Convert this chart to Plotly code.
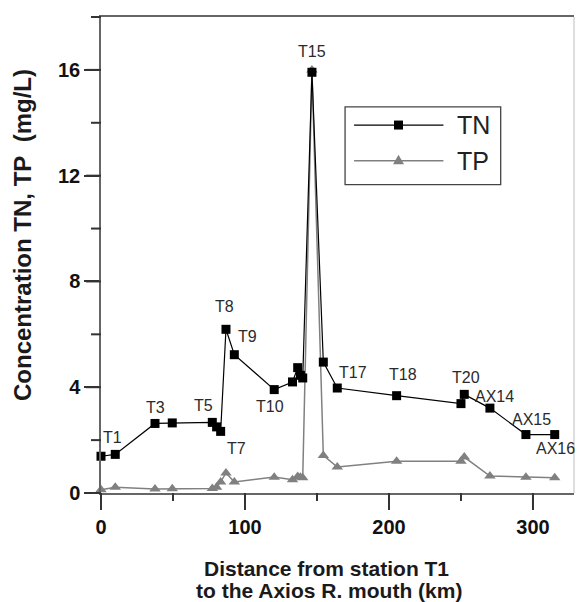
import plotly.graph_objects as go

# ---- data ----
distance_km = [0, 9.9, 37.5, 49.5, 77.3, 80.3, 83.1, 86.8, 92.6, 120.3,
               133.0, 136.6, 138.5, 140.1, 146.5, 154.4, 164.1, 205.3,
               250.0, 252.3, 270.1, 295.1, 315.1]
stations = ["T1", "T2", "T3", "T4", "T5", "T6", "T7", "T8", "T9", "T10",
            "T11", "T12", "T13", "T14", "T15", "T16", "T17", "T18",
            "T19", "T20", "AX14", "AX15", "AX16"]
tn = [1.39, 1.46, 2.63, 2.65, 2.67, 2.50, 2.33, 6.19, 5.23, 3.91,
      4.20, 4.74, 4.45, 4.35, 15.91, 4.95, 3.97, 3.68,
      3.38, 3.73, 3.21, 2.21, 2.21]
tp = [0.12, 0.22, 0.15, 0.16, 0.17, 0.22, 0.42, 0.76, 0.42, 0.60,
      0.50, 0.62, 0.60, 0.58, 16.0, 1.42, 0.98, 1.20,
      1.20, 1.36, 0.64, 0.60, 0.58]

# station labels drawn on the chart: name -> (x shift px, y shift px)
label_offsets = {
    "T1": (11, 19), "T3": (0, 16), "T5": (-9, 17), "T7": (16, -17),
    "T8": (-1, 23), "T9": (13, 18), "T10": (-4, -17), "T15": (0, 21),
    "T17": (16, 16), "T18": (6, 21), "T20": (2, 17), "AX14": (5, 12),
    "AX15": (6, 15), "AX16": (1, -14),
}

X_RANGE = [0, 328.5]
Y_RANGE = [0, 18]
x_major_ticks = [0, 100, 200, 300]
x_minor_ticks = [50, 150, 250]
y_major_ticks = [0, 4, 8, 12, 16]
y_minor_ticks = [2, 6, 10, 14, 18]

FONT = "Arial, 'Liberation Sans', Helvetica, sans-serif"
TN_COLOR = "#000000"
TP_COLOR = "#808080"
TICK_COLOR = "#333333"
TICK_W = 2

fig = go.Figure()
fig.add_trace(go.Scatter(
    x=distance_km, y=tp, mode="lines+markers", name="TP",
    line=dict(color=TP_COLOR, width=1.5),
    marker=dict(symbol="triangle-up", size=10, color=TP_COLOR),
    showlegend=False, cliponaxis=False))
fig.add_trace(go.Scatter(
    x=distance_km, y=tn, mode="lines+markers", name="TN",
    line=dict(color=TN_COLOR, width=1.2),
    marker=dict(symbol="square", size=9, color=TN_COLOR),
    showlegend=False, cliponaxis=False))

# station labels
for name, (dx, dy) in label_offsets.items():
    i = stations.index(name)
    fig.add_annotation(x=distance_km[i], y=tn[i], xref="x", yref="y",
                       text=name, showarrow=False, xshift=dx, yshift=dy,
                       font=dict(family=FONT, size=16, color="#2a2a2a"))

# ---- tick marks (positions follow the tick value lists) ----
def xfrac(v):
    return (v - X_RANGE[0]) / (X_RANGE[1] - X_RANGE[0])

def yfrac(v):
    return (v - Y_RANGE[0]) / (Y_RANGE[1] - Y_RANGE[0])

for vals, ln in ((x_major_ticks, 15), (x_minor_ticks, 8)):
    for v in vals:
        fig.add_shape(type="line", xref="paper", yref="paper",
                      ysizemode="pixel", yanchor=0,
                      x0=xfrac(v), x1=xfrac(v), y0=0, y1=-ln,
                      line=dict(color=TICK_COLOR, width=TICK_W))
for vals, ln in ((y_major_ticks, 15), (y_minor_ticks, 10)):
    for v in vals:
        fig.add_shape(type="line", xref="paper", yref="paper",
                      xsizemode="pixel", xanchor=0,
                      x0=0, x1=-ln, y0=yfrac(v), y1=yfrac(v),
                      line=dict(color=TICK_COLOR, width=TICK_W))

# ---- custom legend drawn with shapes ----
LX0, LX1, LY0, LY1 = 0.516, 0.845, 0.648, 0.811
fig.add_shape(type="rect", xref="paper", yref="paper",
              x0=LX0, x1=LX1, y0=LY0, y1=LY1,
              line=dict(color="#444444", width=1.3), fillcolor="rgba(0,0,0,0)")
SAMPLE_X0, SAMPLE_X1, SAMPLE_XC, TEXT_X = 0.535, 0.724, 0.629, 0.748
leg_rows = [("TN", 0.773, TN_COLOR, "square", 1.2),
            ("TP", 0.698, TP_COLOR, "triangle", 1.5)]
for name, yy, col, sym, lw in leg_rows:
    fig.add_shape(type="line", xref="paper", yref="paper",
                  x0=SAMPLE_X0, x1=SAMPLE_X1, y0=yy, y1=yy,
                  line=dict(color=col, width=lw))
    if sym == "square":
        fig.add_shape(type="rect", xref="paper", yref="paper",
                      xsizemode="pixel", ysizemode="pixel",
                      xanchor=SAMPLE_XC, yanchor=yy,
                      x0=-4.5, x1=4.5, y0=-4.5, y1=4.5,
                      line=dict(width=0), fillcolor=col)
    else:
        fig.add_shape(type="path", xref="paper", yref="paper",
                      xsizemode="pixel", ysizemode="pixel",
                      xanchor=SAMPLE_XC, yanchor=yy,
                      path="M-5.5,-3.5 L5.5,-3.5 L0,6 Z",
                      line=dict(width=0), fillcolor=col)
    fig.add_annotation(x=TEXT_X, y=yy, xref="paper", yref="paper", text=name,
                       showarrow=False, xanchor="left", yanchor="middle",
                       font=dict(family=FONT, size=25, color="#222222"))

# right frame line (light)
fig.add_shape(type="line", xref="paper", yref="paper", x0=1, x1=1, y0=0, y1=1,
              line=dict(color="#c8c8c8", width=1.2))

# axis titles
fig.add_annotation(x=-0.166, y=0.543, xref="paper", yref="paper",
                   text="Concentration TN, TP\u00a0\u00a0(mg/L)", textangle=-90,
                   showarrow=False, xanchor="center", yanchor="middle",
                   font=dict(family=FONT, size=24, color="#1a1a1a", weight="bold"))
fig.add_annotation(x=0.476, y=-0.158, xref="paper", yref="paper",
                   text="Distance from station T1", showarrow=False,
                   xanchor="center", yanchor="middle",
                   font=dict(family=FONT, size=21, color="#1a1a1a", weight="bold"))
fig.add_annotation(x=0.483, y=-0.204, xref="paper", yref="paper",
                   text="to the Axios R. mouth (km)", showarrow=False,
                   xanchor="center", yanchor="middle", borderpad=0,
                   font=dict(family=FONT, size=21, color="#1a1a1a", weight="bold"))

fig.update_layout(
    width=577, height=602,
    margin=dict(l=101, r=3, t=17, b=109, pad=0),
    paper_bgcolor="white", plot_bgcolor="white",
    font=dict(family=FONT, color="#111111"),
    xaxis=dict(range=X_RANGE, tickvals=x_major_ticks, ticks="outside", ticklen=15,
               tickwidth=TICK_W, tickcolor=TICK_COLOR, showgrid=False, zeroline=False,
               showline=True, linecolor="#666666", linewidth=1.5, mirror=True,
               tickfont=dict(family=FONT, size=20, color="#111111", weight="bold")),
    yaxis=dict(range=Y_RANGE, tickvals=y_major_ticks, ticks="outside", ticklen=15,
               tickwidth=TICK_W, tickcolor=TICK_COLOR, showgrid=False, zeroline=False,
               showline=True, linecolor="#666666", linewidth=1.5,
               tickfont=dict(family=FONT, size=20, color="#111111", weight="bold")),
)

fig.write_html("out.html")
